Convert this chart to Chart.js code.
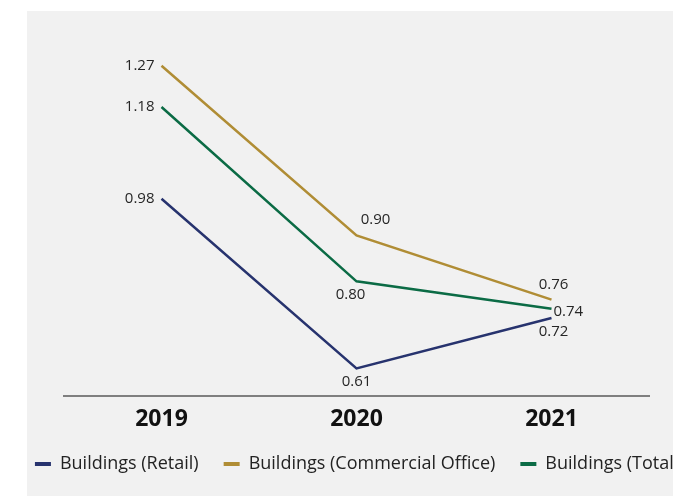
<!DOCTYPE html>
<html lang="en">
<head>
    <meta charset="UTF-8">
    <title>Buildings 2019-2021</title>
    <style>
        body {
            margin: 0;
            width: 673px;
            height: 496px;
            overflow: hidden;
            position: relative;
            background: #fff;
        }

        .panel {
            position: absolute;
            left: 27px;
            top: 11px;
            right: 0;
            bottom: 0;
            background: #f1f1f1;
        }

        /* wider than the window so the legend stays on one line */
        .chart-box {
            position: absolute;
            left: -50px;
            top: 0;
            width: 814px;
            height: 496px;
        }
    </style>
</head>
<body>
    <div class="panel"></div>
    <div class="chart-box">
        <canvas id="buildingsChart"></canvas>
    </div>

    <script src="https://cdn.jsdelivr.net/npm/chart.js"></script>
    <script>
        const years = ['2019', '2020', '2021'];
        const retail = [0.98, 0.61, 0.72];
        const office = [1.27, 0.90, 0.76];
        const total = [1.18, 0.80, 0.74];

        // where each value label sits next to its point: [textAlign, dx, dy]
        const retailSpots = [['right', -7, 0], ['center', 0, 13], ['center', 2, 14]];
        const officeSpots = [['right', -7, 0], ['center', 19, -16], ['center', 2, -15]];
        const totalSpots = [['right', -7, 0], ['center', -6, 13], ['left', 2, 3]];

        const NAVY = '#27336e';
        const GOLD = '#b08d35';
        const GREEN = '#0b6b45';

        function line(label, data, color, spots) {
            return {
                label: label,
                data: data,
                borderColor: color,
                backgroundColor: color,
                borderWidth: 2.5,
                pointRadius: 0,
                tension: 0,
                fill: false,
                spots: spots
            };
        }

        // value labels drawn beside each point
        const valueLabels = {
            id: 'valueLabels',
            afterDatasetsDraw(chart) {
                const ctx = chart.ctx;
                ctx.save();
                ctx.font = '15px "Open Sans", sans-serif';
                ctx.fillStyle = '#262626';
                ctx.textBaseline = 'middle';
                chart.data.datasets.forEach((ds, i) => {
                    chart.getDatasetMeta(i).data.forEach((pt, j) => {
                        const [align, dx, dy] = ds.spots[j];
                        ctx.textAlign = align;
                        ctx.fillText(ds.data[j].toFixed(2), pt.x + dx, pt.y + dy);
                    });
                });
                ctx.restore();
            }
        };

        const hiddenSide = (w, pos) => ({
            type: 'linear',
            position: pos,
            ticks: { display: false },
            grid: { display: false },
            border: { display: false },
            afterFit(scale) { scale.width = w; }
        });

        new Chart(document.getElementById('buildingsChart'), {
            type: 'line',
            data: {
                labels: years,
                datasets: [
                    line('Buildings (Retail)', retail, NAVY, retailSpots),
                    line('Buildings (Commercial Office)', office, GOLD, officeSpots),
                    line('Buildings (Total)', total, GREEN, totalSpots)
                ]
            },
            options: {
                responsive: true,
                maintainAspectRatio: false,
                animation: false,
                layout: { padding: { top: 52, bottom: 13, left: 0, right: 0 } },
                plugins: {
                    tooltip: { enabled: false },
                    legend: {
                        position: 'bottom',
                        labels: {
                            boxWidth: 16,
                            boxHeight: 4,
                            padding: 25,
                            color: '#222',
                            font: { family: 'Open Sans', size: 18 },
                            // flat swatches, no outline
                            generateLabels(chart) {
                                return Chart.defaults.plugins.legend.labels.generateLabels(chart)
                                    .map(item => Object.assign(item, { lineWidth: 0 }));
                            }
                        }
                    }
                },
                scales: {
                    x: {
                        offset: true,
                        grid: { display: false, drawTicks: false },
                        border: { display: true, color: '#7f7f7f', width: 2 },
                        ticks: {
                            padding: 10,
                            color: '#111',
                            font: { family: 'Open Sans', size: 23, weight: 'bold' }
                        },
                        afterFit(scale) { scale.height = 34; }
                    },
                    y: Object.assign(hiddenSide(114, 'left'), { min: 0.55, max: 1.3 }),
                    yRight: hiddenSide(115, 'right')
                }
            },
            plugins: [valueLabels]
        });
    </script>
</body>
</html>
